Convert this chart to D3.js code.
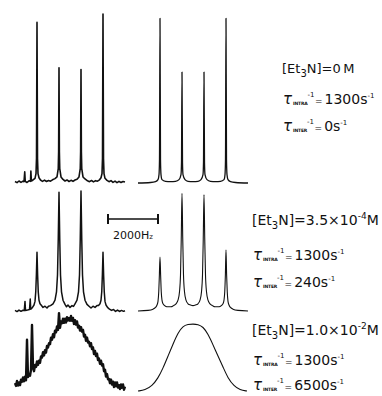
<!DOCTYPE html>
<html>
<head>
<meta charset="utf-8">
<script src="https://cdn.jsdelivr.net/npm/d3@7"></script>
<style>
  html, body { margin: 0; padding: 0; background: #fff; }
  svg { display: block; }
  text { font-family: "DejaVu Sans", sans-serif; fill: #111; }
</style>
</head>
<body>
<div id="chart"></div>
<script>
// spectra: [offset in Hz, intensity 0-100 of the panel]
const topExp = [[-2200,0.3],[-2120,-0.4],[-2040,0.6],[-1960,-0.2],[-1880,0.5],[-1840,0.2],[-1810,6],[-1790,0.4],[-1720,-0.3],[-1640,0.7],[-1580,0.4],[-1565,6.5],[-1545,0.6],[-1480,1.2],[-1400,2.2],[-1360,5],[-1340,14],[-1320,95],[-1300,14],[-1280,5],[-1240,2.5],[-1180,1.2],[-1100,0.4],[-1020,1.1],[-940,0.3],[-860,0.9],[-780,0.5],[-700,1.3],[-600,2],[-520,3],[-470,8],[-455,18],[-440,68],[-425,18],[-410,8],[-360,3],[-280,1.5],[-200,0.6],[-120,1.2],[-40,0.3],[40,1],[120,0.4],[200,1.2],[280,1.6],[360,3],[410,8],[425,18],[440,67],[455,18],[470,8],[520,3],[600,1.8],[700,0.7],[780,0.2],[860,0.9],[940,0.1],[1020,0.8],[1100,0.5],[1180,1.3],[1240,2.5],[1280,5],[1300,14],[1320,100],[1340,14],[1360,5],[1400,2.2],[1480,1],[1560,0.2],[1640,0.8],[1720,-0.2],[1800,0.5],[1880,-0.4],[1960,0.4],[2040,-0.3],[2120,0.3],[2200,0]];

const topSim = [[-2200,0],[-1700,0.3],[-1500,0.8],[-1400,2],[-1360,5],[-1340,14],[-1320,98],[-1300,14],[-1280,5],[-1240,2],[-1100,1],[-900,0.8],[-700,1],[-560,2],[-480,5],[-460,12],[-440,66],[-420,12],[-400,5],[-320,2],[-200,1],[0,0.8],[200,1],[320,2],[400,5],[420,12],[440,66],[460,12],[480,5],[560,2],[700,1],[900,0.8],[1100,1],[1240,2],[1280,5],[1300,14],[1320,98],[1340,14],[1360,5],[1400,2],[1500,0.8],[1700,0.3],[2200,0]];

const midExp = [[-2200,0.5],[-2120,-0.5],[-2040,0.8],[-1960,-0.3],[-1880,0.6],[-1830,0.3],[-1800,8],[-1780,0.5],[-1700,0.8],[-1620,1.2],[-1590,10],[-1570,1.5],[-1500,3],[-1440,5],[-1400,8],[-1370,16],[-1345,30],[-1320,49],[-1295,30],[-1270,16],[-1240,9],[-1200,6],[-1140,4.5],[-1080,3],[-1000,4],[-920,2.5],[-860,4],[-780,4.5],[-680,6],[-600,9],[-540,16],[-500,30],[-470,60],[-440,99],[-410,60],[-380,30],[-340,16],[-280,9],[-200,5.5],[-140,3.5],[-80,5],[0,3],[80,4.5],[140,3.8],[200,6],[280,9],[340,16],[380,30],[410,60],[440,100],[470,60],[500,30],[540,16],[600,9],[680,5.5],[760,4],[840,2.5],[920,4],[1000,3],[1080,4.5],[1140,4.5],[1200,6],[1240,9],[1270,16],[1295,30],[1320,49],[1345,30],[1370,16],[1400,8],[1440,5],[1500,3],[1580,1.5],[1660,0.5],[1740,1.2],[1820,-0.3],[1900,0.8],[1980,-0.4],[2060,0.5],[2140,-0.3],[2200,0.2]];

const midSim = [[-2200,0],[-1800,0.5],[-1600,1.5],[-1500,3],[-1440,5],[-1400,8],[-1370,16],[-1345,30],[-1320,45],[-1295,30],[-1270,16],[-1240,9],[-1200,6],[-1100,4],[-1000,3.5],[-880,3.5],[-780,4.5],[-680,6],[-600,9],[-540,16],[-500,30],[-470,60],[-440,98],[-410,60],[-380,30],[-340,16],[-280,9],[-200,6],[-100,5],[0,4.5],[100,5],[200,6],[280,9],[340,16],[380,30],[410,60],[440,97],[470,60],[500,30],[540,16],[600,9],[680,6],[780,4.5],[880,3.5],[1000,3.5],[1100,4],[1200,6],[1240,9],[1270,16],[1295,30],[1320,51],[1345,30],[1370,16],[1400,8],[1440,5],[1500,3],[1600,1.5],[1800,0.5],[2200,0]];

// bottom experimental trace, sampled every 40 Hz from -2200 Hz
const lowExpStart = -2200;
const lowExpStep = 40;
const lowExpValues = [
  7,3,10,3.5,8,4,12,9,15,9.5,16,11,69,15.5,20,17.5,26,90,29,24,
  33,30,38,33,39,36,45,43.5,51,46.5,54,50.5,60,58,64,62.5,72,69,77,72.5,
  82,79.5,88,83,107,86,95,92.5,99,93,99,93.5,101,96.5,100,96,103,96,100,91.5,
  97,90.5,95,86.5,89,82,87,80.5,83,73.5,76,67.5,72,65,66,59.5,64,55.5,58,48.5,
  53,45.5,49,40,42,34.5,39,32,34,24,26,16.5,20,12.5,13,7,12,5,9,1.5,
  8,2.5,8,0.5,4,-1.5,5,0.5,5,-2.5,2
];

const lowSim = [[-2200,0],[-1920,1.5],[-1640,7.5],[-1400,19],[-1200,34],[-1000,52],[-800,70],[-600,87],[-400,97],[-200,99.5],[0,100],[200,99.5],[400,96],[600,85],[800,69],[1000,52],[1200,36],[1400,19],[1640,7.5],[1880,1.5],[2160,0]];

// labels
const concValues = ["0\u2009", "3.5×10", "1.0×10"];
const concPowers = ["", "-4", "-2"];
const tauIntra = ["1300", "1300", "1300"];
const tauInter = ["0", "240", "6500"];
const scaleBarHz = 2000;

const width = 382, height = 396;

const svg = d3.select("#chart").append("svg")
  .attr("width", width)
  .attr("height", height);

const xLeft = d3.scaleLinear().domain([-2200, 2200]).range([15, 125]);
const xRight = d3.scaleLinear().domain([-2200, 2200]).range([138, 248]);

const yPanel = (base, h) => d3.scaleLinear().domain([0, 100]).range([base, base - h]);

const lowExp = lowExpValues.map((v, i) => [lowExpStart + i * lowExpStep, v]);

const panels = [
  { data: topExp, x: xLeft, y: yPanel(182, 168), w: 1.6, curve: d3.curveLinear },
  { data: topSim, x: xRight, y: yPanel(183, 168), w: 1.3, curve: d3.curveMonotoneX },
  { data: midExp, x: xLeft, y: yPanel(311, 120), w: 1.5, curve: d3.curveLinear },
  { data: midSim, x: xRight, y: yPanel(311, 120), w: 1.1, curve: d3.curveMonotoneX },
  { data: lowExp, x: xLeft, y: yPanel(388, 70), w: 2.4, curve: d3.curveLinear },
  { data: lowSim, x: xRight, y: yPanel(391, 67), w: 1.1, curve: d3.curveBasis }
];

panels.forEach(p => {
  const line = d3.line()
    .x(d => p.x(d[0]))
    .y(d => p.y(d[1]))
    .curve(p.curve);
  svg.append("path")
    .datum(p.data)
    .attr("d", line)
    .attr("fill", "none")
    .attr("stroke", "#111")
    .attr("stroke-width", p.w)
    .attr("stroke-linejoin", "round");
});

// 2000 Hz scale bar between the spectra
const barX1 = xLeft(1520), barX2 = xLeft(1520 + scaleBarHz), barY = 219;
const bar = svg.append("g").attr("stroke", "#111");
bar.append("line").attr("x1", barX1).attr("x2", barX2).attr("y1", barY).attr("y2", barY).attr("stroke-width", 1.6);
[barX1, barX2].forEach(x => bar.append("line")
  .attr("x1", x).attr("x2", x).attr("y1", barY - 5).attr("y2", barY + 5).attr("stroke-width", 2));

const barLabel = svg.append("text")
  .attr("x", (barX1 + barX2) / 2)
  .attr("y", 239)
  .attr("text-anchor", "middle")
  .style("font-size", "11px");
barLabel.append("tspan").text(scaleBarHz);
barLabel.append("tspan").text("H");
barLabel.append("tspan").style("font-size", "7px").text("z");

// condition labels, one block per row
const blocks = [
  { x: 282, size: 13, lines: [73, 104, 131] },
  { x: 252, size: 14, lines: [225, 260, 287] },
  { x: 252, size: 14, lines: [335, 365, 390] }
];

function concLabel(x, y, size, i) {
  const t = svg.append("text").attr("x", x).attr("y", y).style("font-size", size + "px");
  t.append("tspan").text("[Et");
  t.append("tspan").attr("dy", 4).style("font-size", "10px").text("3");
  t.append("tspan").attr("dy", -4).text("N]=" + concValues[i]);
  if (concPowers[i]) {
    t.append("tspan").attr("dy", -6).style("font-size", "9px").text(concPowers[i]);
    t.append("tspan").attr("dy", 6).text("M");
  } else {
    t.append("tspan").text("M");
  }
}

function tauLabel(x, y, sub, value) {
  const t = svg.append("text").attr("x", x).attr("y", y).style("font-size", "14px");
  t.append("tspan").style("font-size", "15px").style("font-style", "italic").text("τ");
  t.append("tspan").attr("dy", 1).attr("dx", 1)
    .style("font-size", "4.5px").style("font-weight", "bold").style("letter-spacing", "-0.2px").text(sub);
  t.append("tspan").attr("dy", -8).style("font-size", "7px").text("-1");
  t.append("tspan").attr("dy", 7).attr("dx", 0.5).style("font-size", "9px").text("=");
  t.append("tspan").attr("dx", 2).text(value + "s");
  t.append("tspan").attr("dy", -6).style("font-size", "7px").text("-1");
}

blocks.forEach((b, i) => {
  concLabel(b.x, b.lines[0], b.size, i);
  tauLabel(b.x + 1, b.lines[1], "INTRA", tauIntra[i]);
  tauLabel(b.x + 1, b.lines[2], "INTER", tauInter[i]);
});
</script>
</body>
</html>
